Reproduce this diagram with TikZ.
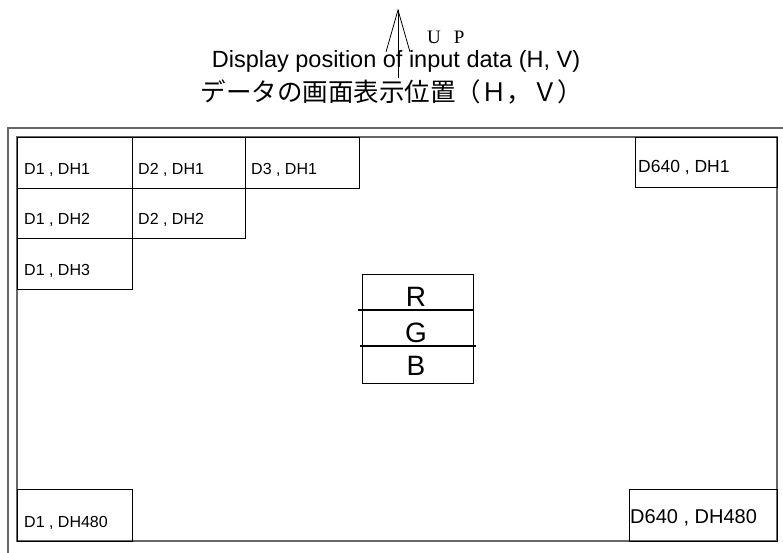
\documentclass[tikz,border=0pt]{standalone}
\usepackage{fontspec}
\setmainfont{Liberation Sans}
\newfontfamily\jpfont{Noto Sans CJK JP}
\newfontfamily\upfont{Liberation Serif}
\usetikzlibrary{calc}

\begin{document}
\begin{tikzpicture}[x=1bp,y=-1bp,
    framestyle/.style={draw=black!60,line width=1.3bp},
    cellbox/.style={draw,line width=0.8bp,anchor=north west,inner sep=0pt},
    celltext/.style={anchor=base west,inner sep=0pt,font=\fontsize{16bp}{18bp}\selectfont},
    rgbtext/.style={anchor=base,inner sep=0pt,font=\fontsize{28bp}{30bp}\selectfont}]
    \useasboundingbox (0,0) rectangle (783,553);
    % outer and inner screen frame
    \draw[framestyle] (8,560) -- (8,128) -- (790,128);
    \draw[framestyle] (17,137) rectangle (777,541);
    % pixel cells
    \foreach \name/\x/\y/\w/\h/\dx/\txt in {c11/17/137/115/51/7/{D1 , DH1},
        c21/132/137/113/51/6/{D2 , DH1}, c31/245/137/114/51/6/{D3 , DH1},
        c12/17/188/115/50/7/{D1 , DH2}, c22/132/188/113/50/6/{D2 , DH2},
        c13/17/238/115/51/7/{D1 , DH3}, c1N/17/489/115/52/7/{D1 , DH480}}
      {
      \node[cellbox,minimum width=\w bp,minimum height=\h bp] (\name) at (\x,\y) {};
      \node[celltext] (\name txt) at ($(\name.south west)+(\dx,-14)$) {\txt};
      }
    \node[cellbox,minimum width=142bp,minimum height=50bp] (cN1) at (635,137) {};
    \node[celltext,font=\fontsize{17.5bp}{19bp}\selectfont] (cN1txt)
      at ($(cN1.south west)+(3,-15)$) {D640 , DH1};
    \node[cellbox,minimum width=148bp,minimum height=52bp] (cNN) at (629,489) {};
    \node[celltext,font=\fontsize{20bp}{22bp}\selectfont] (cNNtxt)
      at ($(cNN.south west)+(1,-18)$) {D640 , DH480};
    % RGB sub pixels
    \node[draw,line width=0.8bp,anchor=north west,inner sep=0pt,
      minimum width=111bp,minimum height=109bp] (rgb) at (362,274) {};
    \draw[line width=1.6bp] (358,310) -- (473,310);
    \draw[line width=1.6bp] (360,346) -- (476,346);
    \node[rgbtext] (r) at (416,307) {R};
    \node[rgbtext] (g) at (416,342) {G};
    \node[rgbtext] (b) at (416,375) {B};
    % title and UP arrow
    \node[anchor=base,inner sep=0pt,font=\fontsize{23.5bp}{25bp}\selectfont] (title)
      at (396,68) {Display position of input data (H, V)};
    \node[inner sep=0pt,font=\jpfont\fontsize{25.5bp}{27bp}\selectfont] (jtitle)
      at (392,92) {データの画面表示位置（Ｈ，Ｖ）};
    \node[anchor=base west,inner sep=0pt,font=\upfont\fontsize{19bp}{21bp}\selectfont] (up)
      at (427,44) {U\hspace{13bp}P};
    \coordinate (uptip) at (398,10);
    \coordinate (upfoot) at (398,78);
    \draw[line width=0.8bp] (upfoot) -- (uptip);
    \draw[line width=0.8bp] ($(uptip)+(-12,42)$) -- (uptip) -- ($(uptip)+(12,42)$);
\end{tikzpicture}
\end{document}
